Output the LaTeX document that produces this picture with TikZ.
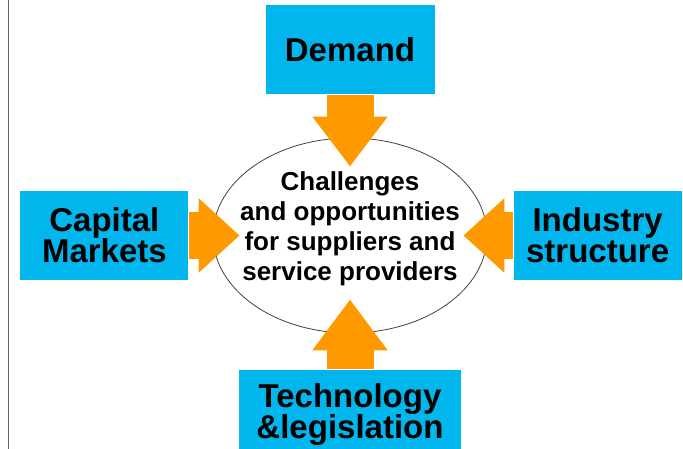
\documentclass[tikz,border=0pt]{standalone}
\usepackage{fontspec}
\setmainfont{Liberation Sans}
\usetikzlibrary{positioning,calc}
\usetikzlibrary{shapes.geometric, arrows.meta}
\definecolor{boxblue}{RGB}{0,182,237}
\definecolor{arrorange}{RGB}{255,153,0}
\tikzset{
  fb/.style={rectangle, minimum width=168pt, minimum height=89pt, inner sep=0pt, text centered, align=center, fill=boxblue, font=\fontsize{33}{31}\selectfont\bfseries},
  ch/.style={ellipse, minimum width=274pt, minimum height=195pt, inner sep=0pt, draw=black!75, line width=0.8pt},
  cht/.style={align=center, inner sep=0pt, font=\fontsize{26}{30}\selectfont\bfseries},
  ar/.style={draw=arrorange, line width=47pt, -{Triangle[length=#1, width=72pt]}},
  ar/.default=50pt
}
\begin{document}
\begin{tikzpicture}[x=1pt, y=-1pt]
\useasboundingbox (0,0) rectangle (683,449);
\draw[black!60, line width=1pt] (8,0) -- (8,449);
\node[ch] (c) at (350,235.5) {};
\node[cht, yshift=6.5pt] (ct) at (c) {Challenges\\and opportunities\\for suppliers and\\service providers};
\node[fb, minimum width=169pt, above=43pt of c] (dem) {Demand};
\node[fb, left=24pt of c] (cap) {Capital\\Markets};
\node[fb, right=26pt of c] (ind) {Industry\\structure};
\node[fb, minimum width=222pt, below=36pt of c] (tec) {Technology\\\&legislation};
\coordinate (tn) at ([yshift=-29pt]c.north);
\coordinate (tw) at ([xshift=27pt]c.west);
\coordinate (te) at ([xshift=-24pt]c.east);
\coordinate (ts) at ([yshift=34pt]c.south);
\draw[ar] (dem) -- (tn);
\draw[ar=41pt] (cap) -- (tw);
\draw[ar=41pt] (ind) -- (te);
\draw[ar=51pt] (tec) -- (ts);
\end{tikzpicture}
\end{document}
